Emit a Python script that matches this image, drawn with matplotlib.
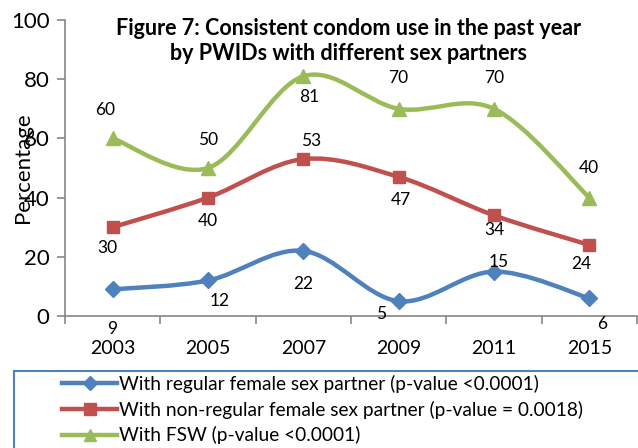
import matplotlib
matplotlib.use("Agg")
import matplotlib.pyplot as plt
from matplotlib.path import Path
from matplotlib.patches import PathPatch, Rectangle
from matplotlib.lines import Line2D

plt.rcParams["font.family"] = ["Lato", "DejaVu Sans"]

years = ["2003", "2005", "2007", "2009", "2011", "2015"]
regular = [9, 12, 22, 5, 15, 6]
non_regular = [30, 40, 53, 47, 34, 24]
fsw = [60, 50, 81, 70, 70, 40]

names = [
    "With regular female sex partner (p-value <0.0001)",
    "With non-regular female sex partner (p-value = 0.0018)",
    "With FSW (p-value <0.0001)",
]
colors = ["#4F81BD", "#C0504D", "#9BBB59"]
markers = ["D", "s", "^"]
msizes = [8, 9, 10]

# label offsets in pixels (dx, dy down positive)
offsets = [
    [(0, 40), (12, 21), (0, 33), (-18, 13), (5, -10), (13, 26)],
    [(-5, 21), (0, 23), (8, -18), (2, 23), (0, 15), (-8, 19)],
    [(-8, -28), (0, -28), (6, 21), (0, -31), (0, -31), (0, -30)],
]


def smooth_path(xs, ys):
    # Catmull-Rom style bezier through every point
    pts = list(zip(xs, ys))
    verts = [pts[0]]
    codes = [Path.MOVETO]
    n = len(pts)
    for i in range(n - 1):
        p0 = pts[i - 1] if i > 0 else pts[i]
        p1 = pts[i]
        p2 = pts[i + 1]
        p3 = pts[i + 2] if i + 2 < n else pts[i + 1]
        c1 = (p1[0] + (p2[0] - p0[0]) / 6, p1[1] + (p2[1] - p0[1]) / 6)
        c2 = (p2[0] - (p3[0] - p1[0]) / 6, p2[1] - (p3[1] - p1[1]) / 6)
        verts += [c1, c2, p2]
        codes += [Path.CURVE4] * 3
    return Path(verts, codes)


fig = plt.figure(figsize=(6.38, 4.48), dpi=100)
ax = fig.add_axes([65 / 638, 1 - 316 / 448, 572 / 638, 296 / 448])

x = list(range(len(years)))
handles = []
for series, color, mk, ms, offs in zip([regular, non_regular, fsw], colors, markers, msizes, offsets):
    ax.add_patch(PathPatch(smooth_path(x, series), fill=False, edgecolor=color, lw=3.2,
                           capstyle="round", zorder=2))
    ax.plot(x, series, linestyle="none", marker=mk, ms=ms, color=color, zorder=3)
    for xi, v, (dx, dy) in zip(x, series, offs):
        ax.annotate(str(v), (xi, v), xytext=(dx * 0.72, -dy * 0.72), textcoords="offset points",
                    ha="center", va="center", fontsize=12.5, color="#000000", zorder=4,
                    annotation_clip=False)
    handles.append(Line2D([], [], color=color, lw=3.2, marker=mk, ms=ms - 1))

ax.set_xlim(-0.5, 5.5)
ax.set_ylim(0, 100)
ax.set_yticks(range(0, 101, 20))
ax.set_xticks(x)
ax.set_xticklabels(years)
ax.set_xticks([i - 0.5 for i in range(len(years) + 1)], minor=True)
ax.tick_params(axis="x", which="major", length=0, labelsize=14, pad=17)
ax.tick_params(axis="x", which="minor", length=6, color="#868686", width=1.2)
ax.tick_params(axis="y", length=6, color="#868686", width=1.2, labelsize=16, pad=5)
for side in ["top", "right"]:
    ax.spines[side].set_visible(False)
for side in ["left", "bottom"]:
    ax.spines[side].set_color("#868686")
    ax.spines[side].set_linewidth(1.2)
ax.spines["bottom"].set_zorder(1)

fig.text(348 / 638, 1 - 41 / 448,
         "Figure 7: Consistent condom use in the past year\nby PWIDs with different sex partners",
         ha="center", va="center", fontsize=15.5, fontweight="bold", linespacing=1.22)
fig.text(23 / 638, 1 - 168 / 448, "Percentage", rotation=90, ha="center", va="center", fontsize=16)

# legend box running off the bottom right
fig.patches.append(Rectangle((14 / 638, -0.2), 1.0, 1 - 371 / 448 + 0.2, transform=fig.transFigure,
                             fill=False, edgecolor="#4F81BD", lw=1.5, clip_on=False))
fig.legend(handles, names, loc="upper left", bbox_to_anchor=(58 / 638, 1 - 371 / 448),
           frameon=False, fontsize=13.8, handlelength=2.9, handletextpad=0.1,
           labelspacing=0.4, borderaxespad=0, borderpad=0.2)

fig.savefig("out.png", dpi=100)
